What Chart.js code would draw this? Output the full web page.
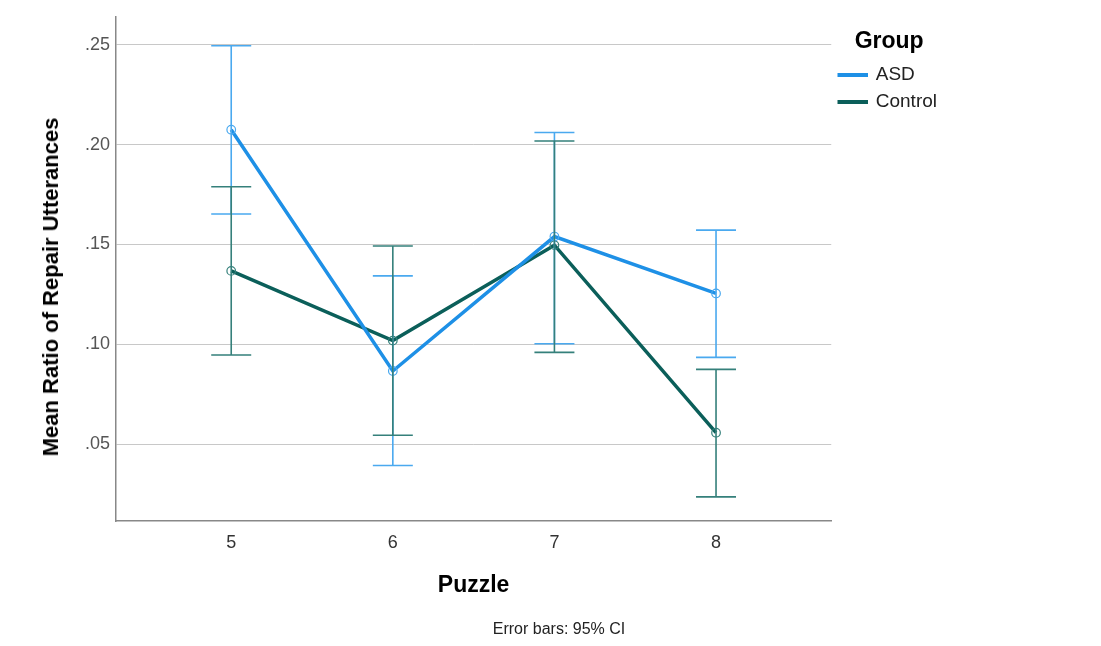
<!DOCTYPE html>
<html lang="en">
<head>
    <meta charset="UTF-8">
    <title>Mean Ratio of Repair Utterances by Puzzle</title>
    <script src="https://cdn.jsdelivr.net/npm/chart.js"></script>
    <style>
        html, body { margin: 0; padding: 0; background: #fff; }
        #wrap { position: relative; width: 1101px; height: 646px; font-family: "Liberation Sans", Arial, sans-serif; }
        .y-title {
            position: absolute; left: 51px; top: 287px;
            transform: translate(-50%, -50%) rotate(-90deg);
            white-space: nowrap; font-size: 22px; font-weight: bold; color: #000;
        }
        .note {
            position: absolute; left: 559px; top: 629px;
            transform: translate(-50%, -50%);
            white-space: nowrap; font-size: 16px; color: #222;
        }
    </style>
</head>
<body>
    <div id="wrap">
        <canvas id="repair-chart" width="1101" height="646"></canvas>
        <div class="y-title">Mean Ratio of Repair Utterances</div>
        <div class="note">Error bars: 95% CI</div>
    </div>

    <script>
        // Puzzle numbers and group means with 95% CI bounds
        const puzzles = [5, 6, 7, 8];
        const yTicks = [0.05, 0.10, 0.15, 0.20, 0.25];

        const asdMean = [0.2075, 0.0867, 0.1540, 0.1255];
        const asdLower = [0.1653, 0.0394, 0.1003, 0.0935];
        const asdUpper = [0.2495, 0.1343, 0.2061, 0.1572];

        const controlMean = [0.1368, 0.1019, 0.1497, 0.0558];
        const controlLower = [0.0947, 0.0545, 0.0960, 0.0237];
        const controlUpper = [0.1789, 0.1493, 0.2018, 0.0875];

        const asdColor = '#1e90e6';
        const asdBarColor = '#4aa9ef';
        const controlColor = '#0b5f5a';
        const controlBarColor = '#35807b';
        const font = 'Liberation Sans, Arial, sans-serif';

        function toPoints(means) {
            return puzzles.map((p, i) => ({ x: p, y: means[i] }));
        }

        // draws the CI whiskers for each dataset using the chart's scales
        const errorBars = {
            id: 'errorBars',
            afterDatasetsDraw(chart) {
                const ctx = chart.ctx;
                const xs = chart.scales.x;
                const ys = chart.scales.y;
                chart.data.datasets.forEach(ds => {
                    ctx.save();
                    ctx.strokeStyle = ds.errorColor;
                    ctx.lineWidth = 1.6;
                    puzzles.forEach((p, i) => {
                        const x = xs.getPixelForValue(p);
                        const top = ys.getPixelForValue(ds.upper[i]);
                        const bot = ys.getPixelForValue(ds.lower[i]);
                        ctx.beginPath();
                        ctx.moveTo(x, top);
                        ctx.lineTo(x, bot);
                        ctx.moveTo(x - 20, top);
                        ctx.lineTo(x + 20, top);
                        ctx.moveTo(x - 20, bot);
                        ctx.lineTo(x + 20, bot);
                        ctx.stroke();
                    });
                    ctx.restore();
                });
            }
        };

        new Chart(document.getElementById('repair-chart'), {
            type: 'line',
            data: {
                datasets: [{
                    label: 'ASD',
                    data: toPoints(asdMean),
                    lower: asdLower,
                    upper: asdUpper,
                    errorColor: asdBarColor,
                    borderColor: asdColor,
                    backgroundColor: asdColor,
                    borderWidth: 3.5,
                    pointRadius: 4.3,
                    pointBorderWidth: 1.2,
                    pointBorderColor: asdBarColor,
                    pointBackgroundColor: 'rgba(255,255,255,0)',
                    tension: 0
                }, {
                    label: 'Control',
                    data: toPoints(controlMean),
                    lower: controlLower,
                    upper: controlUpper,
                    errorColor: controlBarColor,
                    borderColor: controlColor,
                    backgroundColor: controlColor,
                    borderWidth: 3.5,
                    pointRadius: 4.3,
                    pointBorderWidth: 1.2,
                    pointBorderColor: controlBarColor,
                    pointBackgroundColor: 'rgba(255,255,255,0)',
                    tension: 0
                }]
            },
            options: {
                responsive: false,
                animation: false,
                layout: { padding: { left: 0, right: 154, top: 14, bottom: 0 } },
                plugins: {
                    tooltip: { enabled: false },
                    legend: {
                        position: 'right',
                        align: 'start',
                        title: {
                            display: true,
                            text: 'Group',
                            color: '#000',
                            font: { family: font, size: 23, weight: 'bold' },
                            padding: { top: 16, bottom: 0 }
                        },
                        labels: {
                            boxWidth: 27,
                            boxHeight: 0.5,
                            padding: 8,
                            color: '#222',
                            font: { family: font, size: 19 }
                        }
                    }
                },
                scales: {
                    x: {
                        type: 'linear',
                        min: 4.287,
                        max: 8.713,
                        afterBuildTicks: scale => { scale.ticks = puzzles.map(v => ({ value: v })); },
                        afterFit: scale => { scale.height = 125; },
                        grid: { display: false, drawTicks: false },
                        border: { display: true, color: '#888', width: 1.5 },
                        ticks: {
                            padding: 11,
                            color: '#333',
                            font: { family: font, size: 18 },
                            callback: v => String(v)
                        },
                        title: {
                            display: true,
                            text: 'Puzzle',
                            color: '#000',
                            font: { family: font, size: 23, weight: 'bold' },
                            padding: { top: 0, bottom: 47 }
                        }
                    },
                    y: {
                        min: 0.0116,
                        max: 0.264,
                        afterBuildTicks: scale => { scale.ticks = yTicks.map(v => ({ value: v })); },
                        afterFit: scale => { scale.width = 116; },
                        grid: { color: '#c8c8c8', lineWidth: 1, drawTicks: false },
                        border: { display: true, color: '#888', width: 1.5 },
                        ticks: {
                            padding: 6,
                            color: '#555',
                            font: { family: font, size: 18 },
                            callback: v => v.toFixed(2).replace(/^0/, '')
                        }
                    }
                }
            },
            plugins: [errorBars]
        });
    </script>
</body>
</html>
